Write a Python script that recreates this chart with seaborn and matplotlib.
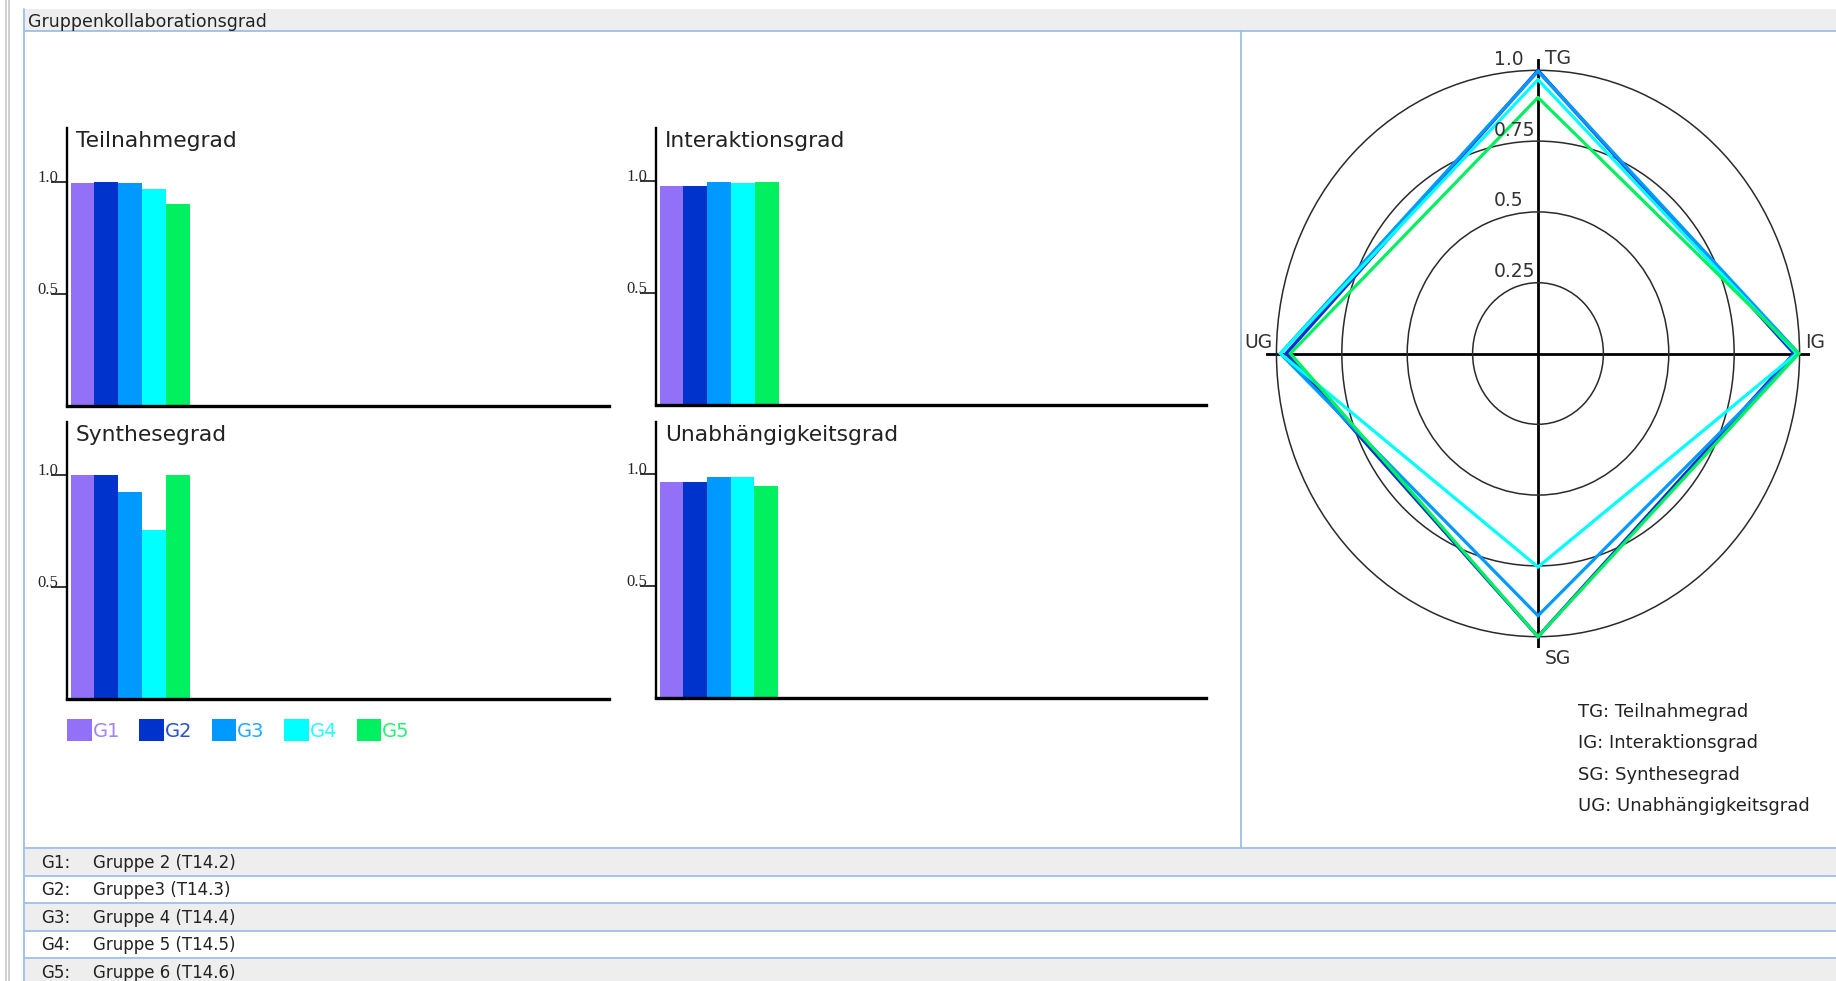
import numpy as np
import pandas as pd
import matplotlib
matplotlib.use("Agg")
import matplotlib.pyplot as plt
from matplotlib.patches import Rectangle, Patch
from matplotlib.lines import Line2D
import seaborn as sns

# ---------------- data ----------------
groups = ["G1", "G2", "G3", "G4", "G5"]
group_names = ["Gruppe 2 (T14.2)", "Gruppe3 (T14.3)", "Gruppe 4 (T14.4)",
               "Gruppe 5 (T14.5)", "Gruppe 6 (T14.6)"]
colors = ["#9370F8", "#0033CC", "#0099FF", "#00FFFF", "#00F060"]

teilnahmegrad = [0.997, 1.0, 0.997, 0.967, 0.904]
interaktionsgrad = [0.979, 0.979, 0.997, 0.989, 0.997]
synthesegrad = [1.0, 1.0, 0.926, 0.754, 1.0]
unabhaengigkeitsgrad = [0.963, 0.963, 0.985, 0.985, 0.947]

metric_titles = ["Teilnahmegrad", "Interaktionsgrad", "Synthesegrad", "Unabhängigkeitsgrad"]
metric_abbr = ["TG", "IG", "SG", "UG"]
ytick_vals = [0.5, 1.0]
ytick_labels = ["0.5", "1.0"]
radar_ticks = [0.25, 0.5, 0.75, 1.0]
radar_tick_labels = ["0.25", "0.5", "0.75", "1.0"]
header_title = "Gruppenkollaborationsgrad"

# ---------------- figure ----------------
sns.set_theme(style="white")
plt.rcParams["font.family"] = ["DejaVu Sans"]

W, H = 1836, 981
fig = plt.figure(figsize=(W / 100, H / 100), dpi=100)
fig.patch.set_facecolor("white")


def fx(x):
    return x / W


def fy(y):
    return 1 - y / H


def hline(y, x0, x1, color="#9dbfec", lw=1.3):
    fig.add_artist(Line2D([fx(x0), fx(x1)], [fy(y), fy(y)], color=color, lw=lw,
                          transform=fig.transFigure))


def vline(x, y0, y1, color="#9dbfec", lw=1.3):
    fig.add_artist(Line2D([fx(x), fx(x)], [fy(y0), fy(y1)], color=color, lw=lw,
                          transform=fig.transFigure))


def rect(x0, y0, x1, y1, color):
    fig.add_artist(Rectangle((fx(x0), fy(y1)), fx(x1) - fx(x0), fy(y0) - fy(y1),
                             facecolor=color, edgecolor="none", transform=fig.transFigure,
                             zorder=0))


# window chrome
vline(5.5, 0, H, color="#c8c8c8", lw=1.2)
vline(8.5, 0, H, color="#c8c8c8", lw=1.2)
rect(24, 9, W, 31, "#eeeeee")
hline(31, 24, W)
vline(24, 9, H)
vline(1241, 31, 848)
hline(848, 24, W)
fig.text(fx(28), fy(27), header_title, fontsize=12.5, color="#222222", va="baseline", ha="left")

# bottom list of groups
row_edges = [848, 875.5, 903, 930.5, 958, 985.5]
for i, (g, name) in enumerate(zip(groups, group_names)):
    y0, y1 = row_edges[i], row_edges[i + 1]
    if i % 2 == 0:
        rect(24.7, y0 + 0.7, W, y1 - 0.7, "#eeeeee")
    hline(y1, 24, W)
    yc = (y0 + y1) / 2 + 1
    fig.text(fx(41), fy(yc), g + ":", fontsize=12, color="#222222", va="center", ha="left")
    fig.text(fx(93), fy(yc), name, fontsize=12, color="#222222", va="center", ha="left")

# ---------------- bar charts ----------------
metric_values = [teilnahmegrad, interaktionsgrad, synthesegrad, unabhaengigkeitsgrad]
axes_px = [  # left, top, right, bottom in px
    (67, 128, 609, 406),
    (656, 128, 1206, 405),
    (67, 422, 609, 699),
    (656, 422, 1206, 698),
]
bar_px = [23.9, 23.9, 23.9, 23.7]

for title, vals, (l, t, r, b), bw in zip(metric_titles, metric_values, axes_px, bar_px):
    ax = fig.add_axes([fx(l), fy(b), fx(r) - fx(l), fy(t) - fy(b)])
    df = pd.DataFrame({"group": groups, "value": vals})
    sns.barplot(data=df, x="group", y="value", hue="group", palette=colors,
                width=1.0, saturation=1, linewidth=0, legend=False, ax=ax)
    span = (r - l) / bw
    ax.set_xlim(-0.65, -0.65 + span)
    ax.set_ylim(0, (b - t) / 224.0)
    ax.set_xticks([])
    ax.set_xlabel("")
    ax.set_ylabel("")
    ax.set_yticks(ytick_vals)
    ax.set_yticklabels(ytick_labels, fontfamily="Liberation Serif", fontsize=12)
    for lab in ax.get_yticklabels():
        lab.set_va("baseline")
    ax.tick_params(axis="y", direction="out", length=11.5, width=1.1, pad=-5,
                   color="black", left=True)
    for s in ["top", "right"]:
        ax.spines[s].set_visible(False)
    ax.spines["left"].set_linewidth(1.7)
    ax.spines["bottom"].set_linewidth(2.4)
    ax.spines["left"].set_color("black")
    ax.spines["bottom"].set_color("black")
    ax.set_facecolor("none")
    ax.annotate(title, xy=(0, 1), xycoords="axes fraction", xytext=(6.5, -13.5),
                textcoords="offset points", ha="left", va="baseline",
                fontsize=15.7, color="#222222")

# legend under Synthesegrad
handles = [Patch(facecolor=c, edgecolor="none") for c in colors]
leg = fig.legend(handles, groups, loc="upper left", bbox_to_anchor=(fx(67), fy(719)),
                 bbox_transform=fig.transFigure, ncol=5, frameon=False, fontsize=14,
                 handlelength=1.26, handleheight=1.4, handletextpad=0.05,
                 columnspacing=1.0, borderpad=0, borderaxespad=0)
for txt, c in zip(leg.get_texts(), colors):
    txt.set_color(c)
    txt.set_alpha(0.85)

# ---------------- radar ----------------
rmax = 1.04
pax = fig.add_axes([fx(1266), fy(648), fx(1810) - fx(1266), fy(59) - fy(648)],
                   projection="polar")
pax.set_aspect("auto")
pax.set_theta_zero_location("N")
pax.set_theta_direction(-1)
pax.set_ylim(0, rmax)
pax.set_facecolor("none")
pax.spines["polar"].set_visible(False)
pax.set_rticks(radar_ticks)
pax.set_yticklabels([])
pax.set_thetagrids([0, 90, 180, 270], labels=["", "", "", ""])
pax.xaxis.grid(True, color="black", lw=2.0)
pax.yaxis.grid(True, color="#2a2a2a", lw=1.1)

angles_deg = [0, 90, 180, 270]
theta = np.deg2rad(angles_deg + [angles_deg[0]])
for i, c in enumerate(colors):
    rv = [teilnahmegrad[i], interaktionsgrad[i], synthesegrad[i], unabhaengigkeitsgrad[i]]
    rv = rv + [rv[0]]
    pax.plot(theta, rv, color=c, lw=2.3, zorder=3, solid_joinstyle="miter")

for tv, tl in zip(radar_ticks, radar_tick_labels):
    pax.annotate(tl, xy=(0, tv), xycoords="data", xytext=(-32, 4), textcoords="offset points",
                 ha="left", va="baseline", fontsize=13.5, color="#333333", zorder=5)

lab_fs = 13.5
pax.annotate(metric_abbr[0], xy=(0, rmax), xytext=(5, -3.6), textcoords="offset points",
             ha="left", va="baseline", fontsize=lab_fs, color="#333333")
pax.annotate(metric_abbr[1], xy=(np.pi / 2, rmax), xytext=(-3.6, 4.3), textcoords="offset points",
             ha="left", va="baseline", fontsize=lab_fs, color="#333333")
pax.annotate(metric_abbr[2], xy=(np.pi, rmax), xytext=(5, -11.5), textcoords="offset points",
             ha="left", va="baseline", fontsize=lab_fs, color="#333333")
pax.annotate(metric_abbr[3], xy=(3 * np.pi / 2, rmax), xytext=(5, 4.3), textcoords="offset points",
             ha="right", va="baseline", fontsize=lab_fs, color="#333333")

# radar key
key_y = [717, 748, 780, 811]
for ab, tt, yy in zip(metric_abbr, metric_titles, key_y):
    fig.text(fx(1578), fy(yy), f"{ab}: {tt}", fontsize=13, color="#222222",
             ha="left", va="baseline")

fig.savefig("out.png", dpi=100)
